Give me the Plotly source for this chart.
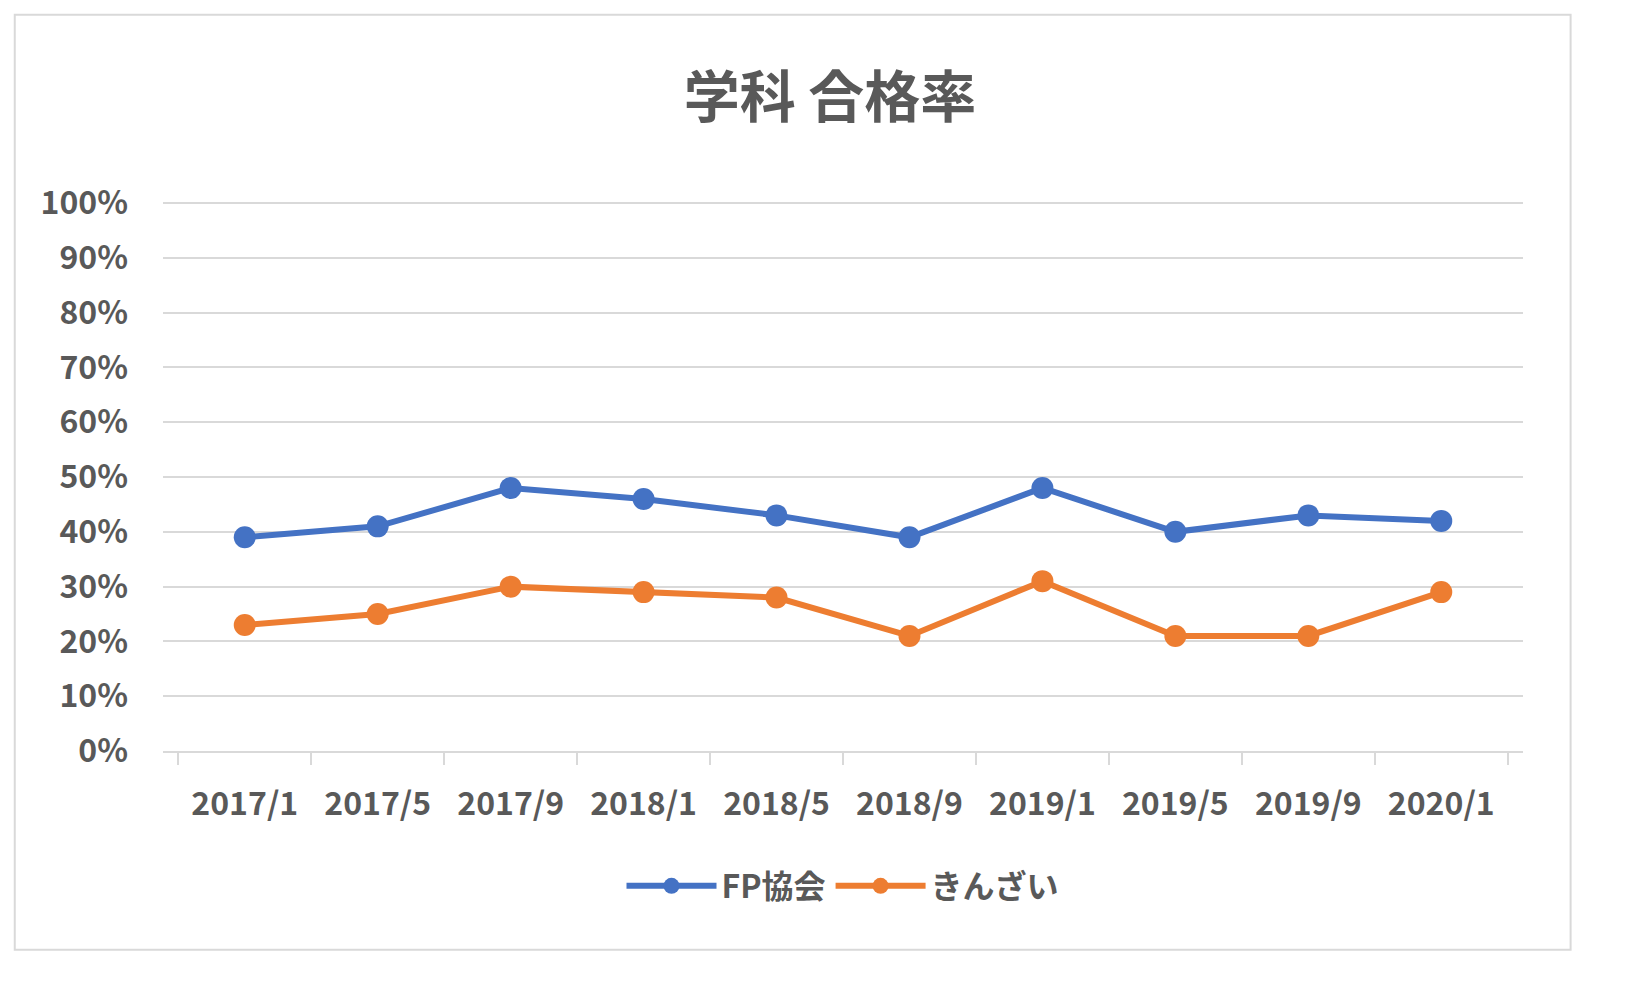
import plotly.graph_objects as go

dates = ["2017/1", "2017/5", "2017/9", "2018/1", "2018/5", "2018/9",
         "2019/1", "2019/5", "2019/9", "2020/1"]
fp_rate = [0.39, 0.41, 0.48, 0.46, 0.43, 0.39, 0.48, 0.40, 0.43, 0.42]
kinzai_rate = [0.23, 0.25, 0.30, 0.29, 0.28, 0.21, 0.31, 0.21, 0.21, 0.29]

font = "Noto Sans CJK JP"
grey = "#595959"

fig = go.Figure()
fig.add_trace(go.Scatter(x=dates, y=fp_rate, name="FP協会", mode="lines+markers",
                         line=dict(color="#4472C4", width=6),
                         marker=dict(size=22, color="#4472C4")))
fig.add_trace(go.Scatter(x=dates, y=kinzai_rate, name="きんざい", mode="lines+markers",
                         line=dict(color="#ED7D31", width=6),
                         marker=dict(size=22, color="#ED7D31")))

fig.update_layout(
    width=1644, height=995,
    margin=dict(l=155, r=129, t=194, b=252),
    paper_bgcolor="white", plot_bgcolor="white",
    font=dict(family=font, color=grey, size=30),
    title=dict(text="<b>学科 合格率</b>", x=0.5, xanchor="center", y=0.91, yanchor="middle",
               font=dict(size=56, color=grey)),
    legend=dict(orientation="h", x=0.5, xanchor="center", y=-0.246, yanchor="middle",
                font=dict(size=32, color=grey, weight="bold"), itemwidth=90),
    showlegend=True,
)
fig.update_xaxes(type="category", tickson="boundaries", ticks="outside", ticklen=12,
                 tickcolor="#D9D9D9", tickwidth=2, showline=True, linecolor="#D9D9D9",
                 linewidth=2, showgrid=False, ticklabelstandoff=24,
                 tickfont=dict(size=32, color=grey, weight="bold"))
fig.update_yaxes(range=[0, 1.002], dtick=0.1, tickformat=".0%", showgrid=True,
                 gridcolor="#D9D9D9", gridwidth=2, zeroline=False,
                 ticklabelstandoff=34,
                 tickfont=dict(size=32, color=grey, weight="bold"))
fig.add_shape(type="rect", xref="paper", yref="paper",
              x0=-0.109, x1=1.035, y0=-0.362, y1=1.341,
              line=dict(color="#D9D9D9", width=2))
fig.write_html("out.html")
